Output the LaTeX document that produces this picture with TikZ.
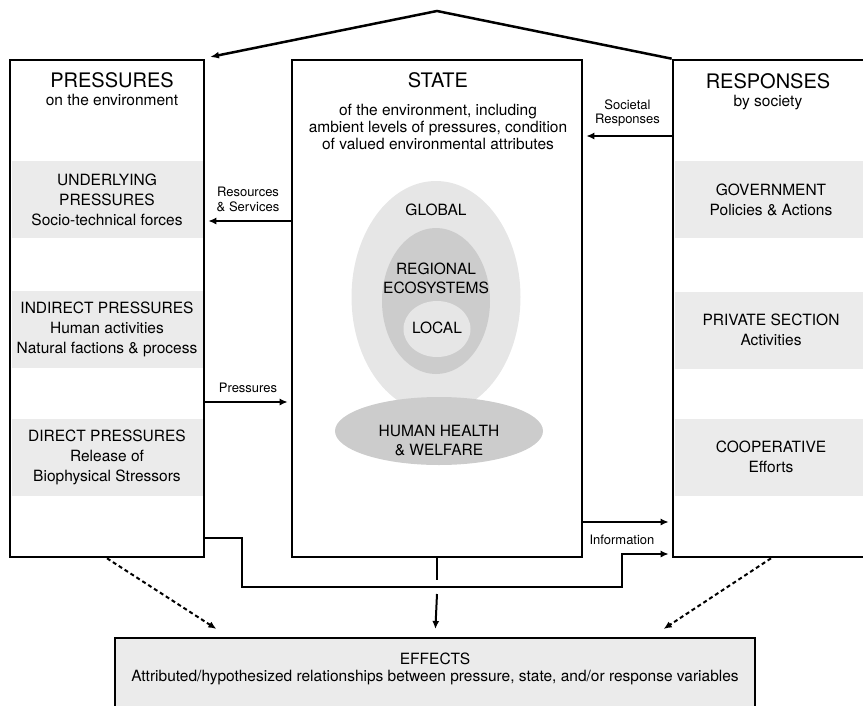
\documentclass[tikz,border=0pt]{standalone}
\usepackage{fontspec}
\setmainfont{TeX Gyre Heros}
\usetikzlibrary{arrows.meta,positioning,shapes.geometric}

\definecolor{bandgray}{HTML}{EBEBEB}
\definecolor{ringlight}{HTML}{E6E6E6}
\definecolor{ringdark}{HTML}{CCCCCC}

\begin{document}
\begin{tikzpicture}[
		x=1pt, y=-1pt,
		pillar/.style={draw, line width=2.6pt, minimum height=497pt, inner sep=0pt},
		band/.style={fill=bandgray, minimum height=77pt, inner sep=0pt, align=center, font=\fontsize{15.5}{20}\selectfont},
		heading/.style={anchor=base, font=\fontsize{20}{22}\selectfont},
		subhead/.style={align=center, font=\fontsize{15.5}{17}\selectfont},
		flowlabel/.style={align=center, font=\fontsize{13}{14.5}\selectfont},
		flow/.style={line width=2pt, shorten >=3pt, -{Latex[length=8pt,width=7pt]}},
		hint/.style={line width=2pt, dash pattern=on 4pt off 3pt, shorten >=2pt, -{Latex[length=8pt,width=7pt]}},
		zone/.style={ellipse, inner sep=0pt},
		zonetext/.style={align=center, font=\fontsize{15.5}{19}\selectfont},
	]
		\useasboundingbox (0,0) rectangle (863,705);
		\clip (0,0) rectangle (863,705);
		
		% the three pillars
		\node (pressures) [pillar, minimum width=194pt] at (107,308.5) {};
		\node (state) [pillar, minimum width=290pt] at (437,308.5) {};
		\node (responses) [pillar, minimum width=196pt] at (771,308.5) {};
		\node (effects) [draw, line width=2pt, fill=bandgray, minimum width=640pt, minimum height=90pt, inner sep=0pt] at (435,683) {};
		
		\node (ptitle) [heading] at (112,87) {PRESSURES};
		\node (psub) [subhead, anchor=base] at (112,105) {on the environment};
		\node (stitle) [heading] at (438,87) {STATE};
		\node (ssub) [subhead] at (438,127) {of the environment, including\\ambient levels of pressures, condition\\of valued environmental attributes};
		\node (rtitle) [heading] at (768,88) {RESPONSES};
		\node (rsub) [subhead, anchor=base] at (768,106) {by society};
		\node (efftext) [subhead] at (435,669) {EFFECTS\\Attributed/hypothesized relationships between pressure, state, and/or response variables};
		
		% grey bands
		\node (underlying) [band, minimum width=191pt] at (107,199.5) {UNDERLYING\\PRESSURES\\Socio-technical forces};
		\node (indirect) [band, minimum width=191pt] at (107,329.5) {INDIRECT PRESSURES\\Human activities\\Natural factions \& process};
		\node (direct) [band, minimum width=191pt] at (107,457) {DIRECT PRESSURES\\Release of\\Biophysical Stressors};
		\node (government) [band, minimum width=193pt] at (771,199.5) {GOVERNMENT\\Policies \& Actions};
		\node (private) [band, minimum width=193pt] at (771,330) {PRIVATE SECTION\\Activities};
		\node (cooperative) [band, minimum width=193pt] at (771,457) {COOPERATIVE\\Efforts};
		
		% nested scales
		\node (global) [zone, fill=ringlight, minimum width=169pt, minimum height=232pt] at (436,297) {};
		\node (regional) [zone, fill=ringdark, minimum width=108pt, minimum height=146pt] at (436,301) {};
		\node (local) [zone, fill=ringlight, minimum width=67pt, minimum height=56pt] at (437,329) {};
		\node (health) [zone, fill=ringdark, minimum width=208pt, minimum height=68pt] at (439,431) {};
		\node (globaltext) [zonetext] at (436,210) {GLOBAL};
		\node (regionaltext) [zonetext] at (436,278) {REGIONAL\\ECOSYSTEMS};
		\node (localtext) [zonetext] at (437,328) {LOCAL};
		\node (healthtext) [zonetext] at (439,441) {HUMAN HEALTH\\\& WELFARE};
		
		% rows of the connectors
		\coordinate (socrow) at (0,136);
		\coordinate (resrow) at (0,221);
		\coordinate (prerow) at (0,402);
		\coordinate (inforow) at (0,522);
		\coordinate (feedrow) at (0,538);
		\coordinate (bendA) at (242,587);
		\coordinate (bendB) at (622,554);
		\coordinate (roofpeak) at (437,11);
		\coordinate (roofend) at (210,57);
		\coordinate (gaptop) at (437,580);
		\coordinate (gapbot) at (437,594);
		\coordinate (hintL) at (218,630);
		\coordinate (hintR) at (662,630);
		
		\draw[line width=2.5pt, -{Latex[length=9pt,width=7pt]}] (responses.north west) -- (roofpeak) -- (roofend);
		
		\draw[flow] (responses.west |- socrow) -- (state.east |- socrow) node (soclabel) [midway, above=5pt, flowlabel] {Societal\\Responses};
		\draw[flow] (state.west |- resrow) -- (pressures.east |- resrow) node (reslabel) [midway, above=5pt, flowlabel] {Resources\\\& Services};
		\draw[flow] (pressures.east |- prerow) -- (state.west |- prerow) node (prelabel) [midway, above=5pt, flowlabel] {Pressures};
		\draw[flow] (state.east |- inforow) -- (responses.west |- inforow);
		\node (infolabel) [flowlabel] at (622,540) {Information};
		\draw[flow] (pressures.east |- feedrow) -| (bendA) -| (bendB) -- (responses.west |- bendB);
		
		\draw[line width=2pt] (state.south) -- (gaptop);
		\draw[flow, shorten >=8pt] (gapbot) -- (effects.north);
		
		\draw[hint] (pressures.south) -- (hintL);
		\draw[hint] (responses.south) -- (hintR);
	\end{tikzpicture}
\end{document}
